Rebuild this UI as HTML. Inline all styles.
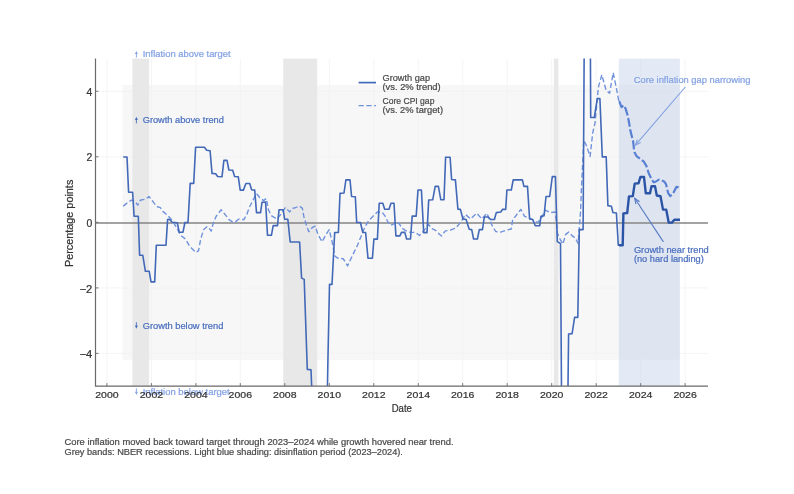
<!DOCTYPE html><html><head><meta charset="utf-8"><title>Growth and inflation gaps</title><style>html,body{margin:0;padding:0;background:#fff;overflow:hidden}svg{display:block;filter:blur(0.35px)}text{font-family:"Liberation Sans",sans-serif}</style></head><body>
<svg width="794" height="494" viewBox="0 0 794 494">
<rect width="794" height="494" fill="#fff"/>
<defs><clipPath id="ax"><rect x="95.5" y="58.6" width="612.5" height="327.5"/></clipPath></defs>
<rect x="122.5" y="84.8" width="557.4" height="275.1" fill="#f7f7f7"/>
<path d="M106.9 58.6V386.1 M151.4 58.6V386.1 M195.9 58.6V386.1 M240.3 58.6V386.1 M284.8 58.6V386.1 M329.3 58.6V386.1 M373.8 58.6V386.1 M418.3 58.6V386.1 M462.7 58.6V386.1 M507.2 58.6V386.1 M551.7 58.6V386.1 M596.2 58.6V386.1 M640.7 58.6V386.1 M685.1 58.6V386.1 M95.5 353.4H708.0 M95.5 287.9H708.0 M95.5 156.8H708.0 M95.5 91.3H708.0" stroke="#f1f1f1" stroke-width="0.8" fill="none"/>
<rect x="132.4" y="58.6" width="16.7" height="327.5" fill="#e8e8e8"/>
<rect x="283.2" y="58.6" width="34.0" height="327.5" fill="#e8e8e8"/>
<rect x="553.9" y="58.6" width="4.5" height="327.5" fill="#e8e8e8"/>
<rect x="618.8" y="58.6" width="61.1" height="327.5" fill="#becce7" fill-opacity="0.42"/>
<path d="M95.5 222.9H708.0" stroke="#858585" stroke-width="1.5"/>
<g clip-path="url(#ax)" fill="none" stroke-linejoin="round">
<polyline points="123.2,206.1 127.6,202.6 131.4,200.1 135.2,201.3 137.7,205.2 140.2,200.3 144.0,199.4 147.7,197.6 149.0,196.5 152.8,201.3 156.6,206.4 160.3,207.6 162.9,211.4 166.6,214.6 170.4,218.3 172.9,221.5 176.7,227.8 180.5,235.3 185.5,239.1 190.0,246.7 195.7,252.3 198.5,250.9 200.6,239.6 203.5,229.7 207.0,226.8 209.1,228.2 211.2,231.1 213.4,222.6 216.2,216.2 221.2,209.8 225.4,214.8 229.0,219.7 232.5,221.9 235.3,221.9 238.9,219.0 243.8,219.7 246.7,214.8 249.5,207.0 252.8,200.6 256.4,193.5 259.9,197.7 263.5,200.6 266.3,198.5 268.4,209.8 271.2,215.5 276.9,219.0 280.5,214.7 285.4,207.7 289.7,211.9 292.5,208.4 295.3,207.7 299.6,206.2 302.4,208.4 303.8,216.2 306.7,226.1 308.8,231.7 312.3,227.5 315.2,226.1 317.8,234.0 322.1,241.8 326.3,234.0 329.2,229.7 332.0,241.1 334.8,256.0 337.7,258.1 343.3,258.8 347.6,265.9 351.8,256.7 357.5,245.3 361.7,234.7 364.6,227.6 368.8,220.5 374.5,214.9 377.3,212.0 382.1,212.2 385.1,216.2 388.1,222.3 390.2,225.3 393.2,224.3 396.2,221.8 399.3,223.8 402.3,228.4 405.3,230.4 408.4,232.0 411.4,232.4 415.5,232.4 419.5,235.5 421.5,233.4 425.6,228.4 428.6,224.3 431.6,228.4 435.7,230.4 439.7,234.5 441.5,235.9 445.3,230.9 450.3,230.2 455.4,228.3 460.4,222.7 465.5,214.5 470.5,218.9 476.8,213.2 481.8,218.9 486.9,213.2 491.9,225.2 495.7,231.5 500.7,232.1 506.3,230.2 511.3,229.0 512.6,220.2 516.4,215.1 520.8,209.4 524.6,216.4 528.3,217.6 532.0,219.5 537.8,222.7 541.6,217.6 545.3,210.1 550.4,212.6 555.4,212.0 557.3,232.7 559.2,237.8 563.0,244.1 565.5,234.6 568.6,232.1 572.4,235.9 575.6,238.4 578.1,243.5 580.6,211.3 581.3,191.3 583.8,140.2 586.3,145.2 590.1,156.5 592.7,133.0 595.1,122.6 598.3,87.6 601.8,74.8 606.1,90.4 609.6,93.2 613.2,72.7 617.4,93.2 618.8,101.3" stroke="#7092dc" stroke-width="1.4" stroke-dasharray="5.2,2.6"/>
<polyline points="123.2,157.0 127.0,157.0 128.6,192.3 132.6,192.3 134.1,216.2 138.3,216.2 139.6,255.3 142.8,255.3 145.4,271.3 149.2,271.3 151.0,281.9 154.7,281.9 156.3,245.3 166.0,245.3 167.6,219.6 169.2,219.2 172.3,222.3 177.3,222.8 179.2,232.2 183.0,232.2 184.9,222.5 188.0,222.5 190.2,183.4 193.7,183.4 195.6,147.2 204.4,147.2 206.7,150.3 210.1,150.7 212.0,173.4 215.7,173.8 217.6,176.5 222.0,176.8 223.9,160.4 227.0,160.4 228.9,170.0 232.7,170.2 234.6,176.5 238.3,176.8 240.2,190.1 243.4,190.1 245.9,183.5 249.7,183.5 251.6,189.7 254.7,190.1 256.5,212.6 260.6,212.6 262.0,202.3 265.6,202.0 267.5,235.3 271.4,235.3 273.2,225.6 277.5,225.6 279.0,209.8 283.2,209.8 284.6,219.2 287.8,219.2 290.2,242.0 299.6,242.0 301.6,278.1 304.2,279.4 307.3,369.4 311.0,369.8 313.0,420.0 326.8,420.0 328.0,356.0 329.5,284.4 332.0,284.4 334.7,232.5 338.4,232.5 340.0,193.4 344.0,193.0 345.9,179.9 350.0,179.9 351.6,196.5 355.3,196.8 356.7,222.5 360.4,222.5 362.8,232.5 365.6,232.5 368.0,258.3 372.4,258.3 373.9,239.1 377.4,239.1 379.2,203.3 382.8,203.3 384.7,209.2 389.0,209.2 391.0,203.3 394.0,203.3 395.9,235.9 399.9,235.9 401.5,232.4 404.8,232.4 406.6,239.0 410.5,239.0 412.2,216.1 416.2,216.1 418.0,190.0 421.4,190.0 423.7,232.6 427.0,232.6 428.7,200.0 432.7,199.8 435.2,186.4 438.4,186.4 440.8,199.7 444.0,199.7 445.6,157.2 450.1,157.2 451.6,179.5 455.4,179.9 457.9,209.1 460.4,209.4 462.9,218.9 466.1,219.5 469.2,229.2 471.7,229.6 473.6,239.0 477.4,239.0 479.3,229.6 482.5,229.6 484.3,217.0 488.1,217.0 490.6,219.5 494.4,219.5 496.3,212.6 500.7,212.0 502.6,209.2 505.7,209.4 506.9,190.0 511.3,190.0 513.2,179.9 522.4,179.9 523.9,186.4 527.5,186.4 529.6,218.9 532.7,219.5 535.3,225.8 539.7,225.8 540.9,216.4 544.1,215.7 546.0,196.5 549.7,196.5 552.3,176.6 555.4,176.6 557.3,241.6 560.5,243.5 561.7,420.0 567.6,420.0 568.6,334.0 572.1,333.6 574.6,317.4 577.8,317.4 579.3,229.6 583.1,229.6 584.3,30.0 590.3,30.0 590.7,117.5 594.3,117.5 597.3,98.6 599.9,98.6 602.3,156.9 606.2,156.9 607.9,205.6 611.4,206.2 612.9,212.5 616.4,213.0 618.3,245.2 619.0,245.2" stroke="#4268b8" stroke-width="1.6"/>
<polyline points="618.8,101.5 619.5,101.8 621.5,107.2 623.5,105.2 625.6,108.6 627.6,115.4 629.0,122.2 630.3,130.3 631.7,135.8 633.1,141.2 633.7,146.6 634.4,152.1 636.5,156.1 640.0,158.6 643.6,161.4 646.4,165.9 648.7,173.2 650.5,176.9 651.8,179.6 653.7,182.3 656.0,181.4 659.1,179.6 661.9,180.5 664.1,181.4 666.0,184.1 667.3,189.6 668.2,193.2 670.1,196.0 672.8,194.2 674.6,190.5 676.4,186.9 678.3,187.4 679.6,189.2" stroke="#5a80d4" stroke-width="2.2" stroke-dasharray="9,2.5"/>
<polyline points="619.0,245.2 622.7,245.2 623.4,213.4 627.2,213.0 629.0,196.4 632.8,196.1 634.7,183.6 638.5,183.3 640.4,177.0 644.0,177.0 645.8,193.3 650.0,193.3 651.5,186.2 655.0,186.2 656.8,195.5 660.5,196.2 663.0,209.6 666.2,209.6 668.7,222.6 671.9,222.6 674.4,219.7 680.0,219.7" stroke="#2b54a6" stroke-width="2.4"/>
</g>
<path d="M95.5 58.6V386.1H708.0" stroke="#6a6a6a" stroke-width="1.2" fill="none"/>
<path d="M106.9 386.1v-3 M151.4 386.1v-3 M195.9 386.1v-3 M240.3 386.1v-3 M284.8 386.1v-3 M329.3 386.1v-3 M373.8 386.1v-3 M418.3 386.1v-3 M462.7 386.1v-3 M507.2 386.1v-3 M551.7 386.1v-3 M596.2 386.1v-3 M640.7 386.1v-3 M685.1 386.1v-3 M95.5 353.4h3 M95.5 287.9h3 M95.5 222.3h3 M95.5 156.8h3 M95.5 91.3h3" stroke="#6a6a6a" stroke-width="0.9"/>
<text x="401.8" y="411.5" font-size="10" fill="#333" stroke="#333" stroke-width="0.22" text-anchor="middle" textLength="20.2" lengthAdjust="spacingAndGlyphs">Date</text>
<text transform="translate(73,223.4) rotate(-90)" font-size="10.8" fill="#333" stroke="#333" stroke-width="0.22" text-anchor="middle" textLength="87.4" lengthAdjust="spacingAndGlyphs">Percentage points</text>
<path d="M136.4 52.9V57.5" stroke="#84a2e3" stroke-width="0.9"/><path d="M134.9 54.1L136.4 50.9L137.9 54.1Z" fill="#84a2e3"/><text x="142.7" y="57.3" font-size="9.0" fill="#84a2e3" stroke="#84a2e3" stroke-width="0.22" textLength="87.9" lengthAdjust="spacingAndGlyphs">Inflation above target</text>
<path d="M136.4 118.8V123.4" stroke="#4a6fbf" stroke-width="0.9"/><path d="M134.9 120.0L136.4 116.8L137.9 120.0Z" fill="#4a6fbf"/><text x="142.7" y="123.2" font-size="9.0" fill="#4a6fbf" stroke="#4a6fbf" stroke-width="0.22" textLength="81.2" lengthAdjust="spacingAndGlyphs">Growth above trend</text>
<path d="M136.4 322.2V326.8" stroke="#4a6fbf" stroke-width="0.9"/><path d="M134.9 325.6L136.4 328.8L137.9 325.6Z" fill="#4a6fbf"/><text x="142.7" y="328.6" font-size="9.0" fill="#4a6fbf" stroke="#4a6fbf" stroke-width="0.22" textLength="80.7" lengthAdjust="spacingAndGlyphs">Growth below trend</text>
<path d="M136.4 388.3V392.9" stroke="#84a2e3" stroke-width="0.9"/><path d="M134.9 391.7L136.4 394.9L137.9 391.7Z" fill="#84a2e3"/><text x="142.7" y="394.7" font-size="9.0" fill="#84a2e3" stroke="#84a2e3" stroke-width="0.22" textLength="87.0" lengthAdjust="spacingAndGlyphs">Inflation below target</text>
<text x="633.8" y="82.6" font-size="9.0" fill="#84a2e3" stroke="#84a2e3" stroke-width="0.22" textLength="116.7" lengthAdjust="spacingAndGlyphs">Core inflation gap narrowing</text>
<text x="633.9" y="252.6" font-size="9.0" fill="#4a6fbf" stroke="#4a6fbf" stroke-width="0.22" textLength="74.9" lengthAdjust="spacingAndGlyphs">Growth near trend</text>
<text x="633.9" y="262.1" font-size="9.0" fill="#4a6fbf" stroke="#4a6fbf" stroke-width="0.22" textLength="69.9" lengthAdjust="spacingAndGlyphs">(no hard landing)</text>
<path d="M685.3 87.0L635.4 145.2" stroke="#84a2e3" stroke-width="1.15"/><path d="M637.3 139.6L635.4 145.2L640.7 142.5" stroke="#84a2e3" stroke-width="1.1" fill="none"/>
<path d="M663.4 241.9L634.7 198.3" stroke="#5a7cc6" stroke-width="1.15"/><path d="M639.6 201.7L634.7 198.3L635.9 204.1" stroke="#5a7cc6" stroke-width="1.1" fill="none"/>
<path d="M358.6 82.6H376" stroke="#4268b8" stroke-width="1.7"/>
<path d="M358.6 105.6H376" stroke="#7092dc" stroke-width="1.4" stroke-dasharray="5.2,2.6"/>
<text x="382.5" y="80.5" font-size="9.0" fill="#4a4a4a" stroke="#4a4a4a" stroke-width="0.22" textLength="47.5" lengthAdjust="spacingAndGlyphs">Growth gap</text>
<text x="382.5" y="90.4" font-size="9.0" fill="#4a4a4a" stroke="#4a4a4a" stroke-width="0.22" textLength="58.2" lengthAdjust="spacingAndGlyphs">(vs. 2% trend)</text>
<text x="382.5" y="103.5" font-size="9.0" fill="#4a4a4a" stroke="#4a4a4a" stroke-width="0.22" textLength="51.9" lengthAdjust="spacingAndGlyphs">Core CPI gap</text>
<text x="382.5" y="112.8" font-size="9.0" fill="#4a4a4a" stroke="#4a4a4a" stroke-width="0.22" textLength="60.5" lengthAdjust="spacingAndGlyphs">(vs. 2% target)</text>
<text x="64.5" y="444.6" font-size="9.0" fill="#4a4a4a" stroke="#4a4a4a" stroke-width="0.22" textLength="389.1" lengthAdjust="spacingAndGlyphs">Core inflation moved back toward target through 2023–2024 while growth hovered near trend.</text>
<text x="64.5" y="454.7" font-size="9.0" fill="#4a4a4a" stroke="#4a4a4a" stroke-width="0.22" textLength="338.4" lengthAdjust="spacingAndGlyphs">Grey bands: NBER recessions. Light blue shading: disinflation period (2023–2024).</text>
<text x="106.9" y="397.9" font-size="9.8" fill="#333" stroke="#333" stroke-width="0.22" text-anchor="middle" textLength="23.4" lengthAdjust="spacingAndGlyphs">2000</text>
<text x="151.4" y="397.9" font-size="9.8" fill="#333" stroke="#333" stroke-width="0.22" text-anchor="middle" textLength="23.4" lengthAdjust="spacingAndGlyphs">2002</text>
<text x="195.9" y="397.9" font-size="9.8" fill="#333" stroke="#333" stroke-width="0.22" text-anchor="middle" textLength="23.4" lengthAdjust="spacingAndGlyphs">2004</text>
<text x="240.3" y="397.9" font-size="9.8" fill="#333" stroke="#333" stroke-width="0.22" text-anchor="middle" textLength="23.4" lengthAdjust="spacingAndGlyphs">2006</text>
<text x="284.8" y="397.9" font-size="9.8" fill="#333" stroke="#333" stroke-width="0.22" text-anchor="middle" textLength="23.4" lengthAdjust="spacingAndGlyphs">2008</text>
<text x="329.3" y="397.9" font-size="9.8" fill="#333" stroke="#333" stroke-width="0.22" text-anchor="middle" textLength="23.4" lengthAdjust="spacingAndGlyphs">2010</text>
<text x="373.8" y="397.9" font-size="9.8" fill="#333" stroke="#333" stroke-width="0.22" text-anchor="middle" textLength="23.4" lengthAdjust="spacingAndGlyphs">2012</text>
<text x="418.3" y="397.9" font-size="9.8" fill="#333" stroke="#333" stroke-width="0.22" text-anchor="middle" textLength="23.4" lengthAdjust="spacingAndGlyphs">2014</text>
<text x="462.7" y="397.9" font-size="9.8" fill="#333" stroke="#333" stroke-width="0.22" text-anchor="middle" textLength="23.4" lengthAdjust="spacingAndGlyphs">2016</text>
<text x="507.2" y="397.9" font-size="9.8" fill="#333" stroke="#333" stroke-width="0.22" text-anchor="middle" textLength="23.4" lengthAdjust="spacingAndGlyphs">2018</text>
<text x="551.7" y="397.9" font-size="9.8" fill="#333" stroke="#333" stroke-width="0.22" text-anchor="middle" textLength="23.4" lengthAdjust="spacingAndGlyphs">2020</text>
<text x="596.2" y="397.9" font-size="9.8" fill="#333" stroke="#333" stroke-width="0.22" text-anchor="middle" textLength="23.4" lengthAdjust="spacingAndGlyphs">2022</text>
<text x="640.7" y="397.9" font-size="9.8" fill="#333" stroke="#333" stroke-width="0.22" text-anchor="middle" textLength="23.4" lengthAdjust="spacingAndGlyphs">2024</text>
<text x="685.1" y="397.9" font-size="9.8" fill="#333" stroke="#333" stroke-width="0.22" text-anchor="middle" textLength="23.4" lengthAdjust="spacingAndGlyphs">2026</text>
<text x="92.3" y="358.0" font-size="10.4" fill="#333" stroke="#333" stroke-width="0.22" text-anchor="end" textLength="12.8" lengthAdjust="spacingAndGlyphs">−4</text>
<text x="92.3" y="292.5" font-size="10.4" fill="#333" stroke="#333" stroke-width="0.22" text-anchor="end" textLength="12.8" lengthAdjust="spacingAndGlyphs">−2</text>
<text x="92.3" y="226.9" font-size="10.4" fill="#333" stroke="#333" stroke-width="0.22" text-anchor="end">0</text>
<text x="92.3" y="161.4" font-size="10.4" fill="#333" stroke="#333" stroke-width="0.22" text-anchor="end">2</text>
<text x="92.3" y="95.9" font-size="10.4" fill="#333" stroke="#333" stroke-width="0.22" text-anchor="end">4</text>
</svg></body></html>
